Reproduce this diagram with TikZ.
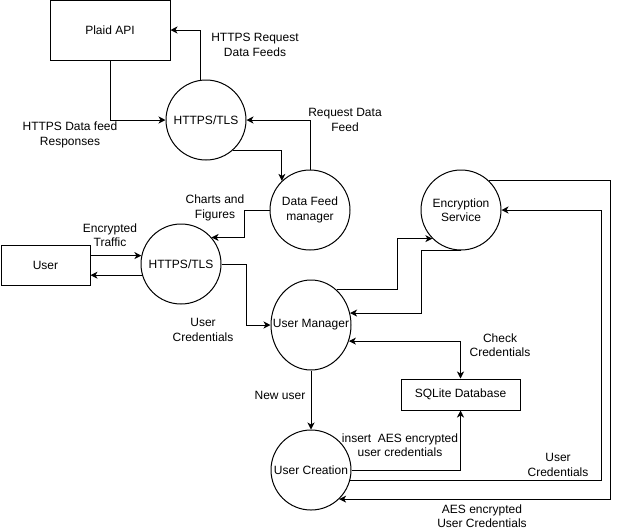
\documentclass[tikz,border=0pt]{standalone}
\usepackage{fontspec}
\setmainfont{Liberation Sans}
\usetikzlibrary{arrows.meta,shapes.geometric}

\begin{document}
\begin{tikzpicture}[
    x=1pt, y=-1pt,
    every node/.style={font=\fontsize{12}{14.5}\selectfont, inner sep=0pt, align=center},
    entity/.style={draw, line width=1pt, rectangle},
    proc/.style={draw, line width=1pt, circle, minimum size=80pt},
    flow/.style={draw, line width=1pt, -{Stealth[length=7pt,width=7pt,inset=2pt]}},
    biflow/.style={draw, line width=1pt, {Stealth[length=7pt,width=7pt,inset=2pt]}-{Stealth[length=7pt,width=7pt,inset=2pt]}},
    lbl/.style={}
  ]
  % canvas
  \fill[white] (0,0) rectangle (620,531);
  \useasboundingbox (0,0) rectangle (620,531);

  % external entities and stores
  \node[entity, minimum width=120pt, minimum height=60pt] (plaid) at (110,30) {Plaid API};
  \node[entity, minimum width=89pt, minimum height=40pt] (user) at (45.5,265) {User};
  \node[entity, minimum width=119pt, minimum height=31pt] (db) at (460.5,394.5) {SQLite Database};

  % processes
  \node[proc] (tlsA) at (206,120) {HTTPS/TLS};
  \node[proc] (feed) at (310,210) {Data Feed\\manager};
  \node[proc] (enc) at (461,210) {Encryption\\Service};
  \node[proc] (tlsB) at (181,264) {HTTPS/TLS};
  \node[draw, line width=1pt, ellipse, minimum width=80pt, minimum height=90pt] (um) at (311,325) {};
  \node (umtext) at (um.center) {User Manager};
  \node[proc] (uc) at (311,470) {User Creation};

  % Plaid side
  \draw[flow] (tlsA.98) |- (plaid.east);
  \draw[flow] (plaid.south) |- (tlsA.west);
  \draw[flow] (tlsA.-48) -| (feed.134);
  \draw[flow] (feed.north) |- (tlsA.east);
  \draw[flow] (feed.west) -- ++(-25,0) |- (tlsB.41);

  % user side
  \draw[flow] (user.east |- tlsB.168) -- (tlsB.168);
  \draw[flow] (tlsB.196) -- (user.east |- tlsB.196);
  \draw[flow] (tlsB.east) -- ++(24.5,0) |- (um.west);

  % user manager and encryption
  \draw[flow] (um.54) -- ++(61,0) |- (enc.225);
  \draw[flow] (enc.south) -- ++(-40,0) |- (um.17);
  \draw[biflow] (um.-23) -| (db.north);
  \draw[flow] (um.south) -- (uc.north);
  \draw[flow] (uc.east) -| (db.south);
  \draw[flow] (uc.-15) -- ++(251,0) |- (enc.east);
  \draw[flow] (enc.47) -- ++(121.7,0) |- (uc.-46);

  % flow labels
  \node[lbl] (l1) at (255,45) {HTTPS Request\\Data Feeds};
  \node[lbl] (l2) at (70,135) {HTTPS Data feed\\Responses};
  \node[lbl] (l3) at (345,120) {Request Data\\Feed};
  \node[lbl] (l4) at (215,208) {Charts and\\Figures};
  \node[lbl] (l5) at (110,235) {Encrypted\\Traffic};
  \node[lbl] (l6) at (203,330) {User\\Credentials};
  \node[lbl] (l7) at (280,395) {New user};
  \node[lbl] (l8) at (500,345) {Check\\Credentials};
  \node[lbl] (l9) at (400,445) {insert\ \ AES encrypted\\user credentials};
  \node[lbl] (l10) at (558,465) {User\\Credentials};
  \node[lbl] (l11) at (482,516) {AES encrypted\\User Credentials};
\end{tikzpicture}
\end{document}
